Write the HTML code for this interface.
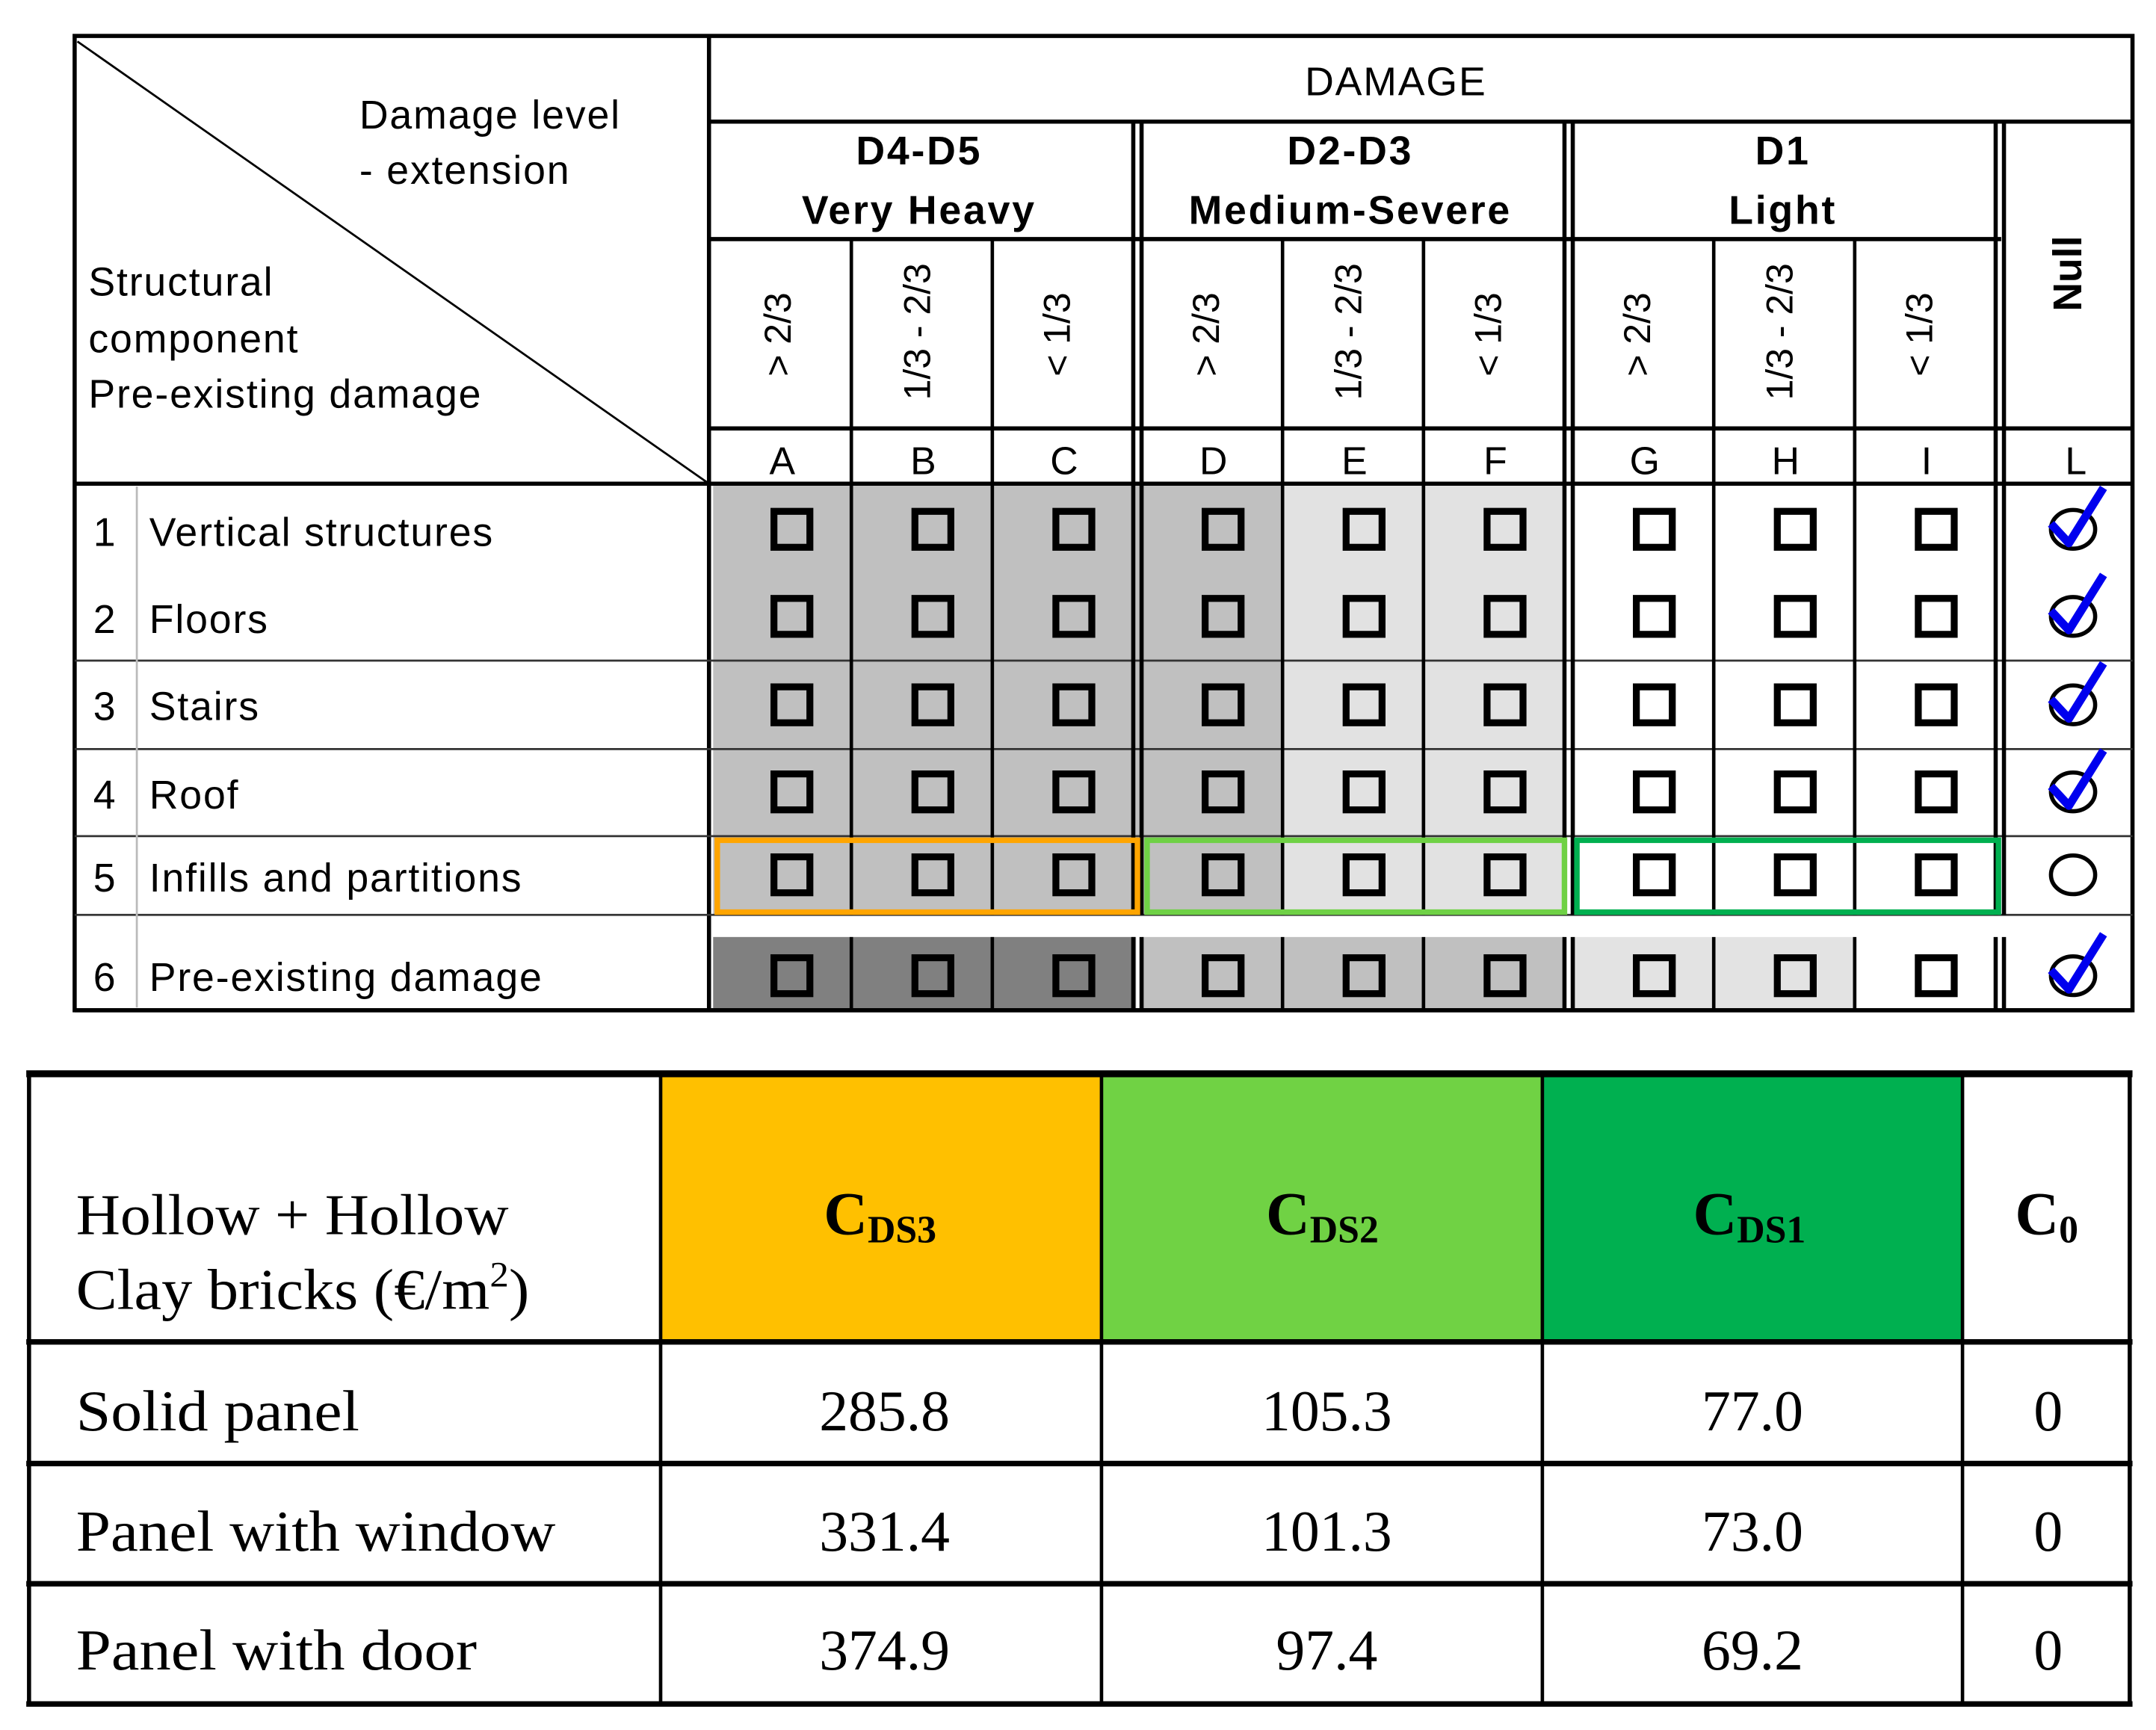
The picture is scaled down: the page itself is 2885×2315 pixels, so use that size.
<!DOCTYPE html>
<html><head><meta charset="utf-8"><style>
html,body{margin:0;padding:0;background:#fff;}
svg{display:block;}
.s{font-family:"Liberation Sans",sans-serif;}
.t{font-family:"Liberation Serif",serif;}
</style></head><body>
<svg width="2885" height="2315" viewBox="0 0 1560 1251.8" xmlns="http://www.w3.org/2000/svg">
<defs>
<rect id="sq" x="-13" y="-13" width="26" height="26" fill="none" stroke="#000" stroke-width="5"/>
<g id="ck"><ellipse cx="0" cy="0" rx="16" ry="14" fill="none" stroke="#000" stroke-width="3"/><path d="M-16,-4 L-3,10 L22,-30" fill="none" stroke="#0000ee" stroke-width="6" stroke-linejoin="round"/></g>
</defs>
<rect width="1560" height="1252" fill="#fff"/>
<rect x="516" y="350" width="412" height="312" fill="#c0c0c0"/>
<rect x="928" y="350" width="204" height="312" fill="#e2e2e2"/>
<rect x="516" y="678" width="306" height="53" fill="#808080"/>
<rect x="826" y="678" width="306" height="53" fill="#c0c0c0"/>
<rect x="1138" y="678" width="204" height="53" fill="#e3e3e3"/>
<rect x="54" y="26" width="1489" height="705" fill="none" stroke="#000" stroke-width="3"/>
<line x1="513" y1="26" x2="513" y2="731" stroke="#000" stroke-width="3"/>
<line x1="513" y1="88" x2="1543" y2="88" stroke="#000" stroke-width="3"/>
<line x1="513" y1="173" x2="1448" y2="173" stroke="#000" stroke-width="3"/>
<line x1="513" y1="310" x2="1543" y2="310" stroke="#000" stroke-width="3"/>
<line x1="54" y1="350" x2="1543" y2="350" stroke="#000" stroke-width="3"/>
<line x1="56" y1="30" x2="513" y2="350" stroke="#000" stroke-width="1.5"/>
<g stroke="#333" stroke-width="1.5">
<line x1="54" y1="478" x2="1543" y2="478"/>
<line x1="54" y1="542" x2="1543" y2="542"/>
<line x1="54" y1="605" x2="1543" y2="605"/>
<line x1="54" y1="662" x2="1543" y2="662"/>
</g>
<rect x="515" y="663" width="930" height="14" fill="#fff"/>
<line x1="54" y1="731" x2="1543" y2="731" stroke="#000" stroke-width="3"/>
<line x1="99" y1="352" x2="99" y2="729" stroke="#bbb" stroke-width="1.5"/>
<g stroke="#000" stroke-width="2.5">
<line x1="616" y1="173" x2="616" y2="662"/><line x1="718" y1="173" x2="718" y2="662"/>
<line x1="928" y1="173" x2="928" y2="662"/><line x1="1030" y1="173" x2="1030" y2="662"/>
<line x1="1240" y1="173" x2="1240" y2="662"/><line x1="1342" y1="173" x2="1342" y2="662"/>
<line x1="616" y1="678" x2="616" y2="731"/><line x1="718" y1="678" x2="718" y2="731"/>
<line x1="928" y1="678" x2="928" y2="731"/><line x1="1030" y1="678" x2="1030" y2="731"/>
<line x1="1240" y1="678" x2="1240" y2="731"/><line x1="1342" y1="678" x2="1342" y2="731"/>
</g>
<g stroke="#000" stroke-width="3">
<line x1="820" y1="88" x2="820" y2="662"/><line x1="826" y1="88" x2="826" y2="662"/>
<line x1="1132" y1="88" x2="1132" y2="662"/><line x1="1138" y1="88" x2="1138" y2="662"/>
<line x1="1444" y1="88" x2="1444" y2="662"/><line x1="1450" y1="88" x2="1450" y2="662"/>
<line x1="820" y1="678" x2="820" y2="731"/><line x1="826" y1="678" x2="826" y2="731"/>
<line x1="1132" y1="678" x2="1132" y2="731"/><line x1="1138" y1="678" x2="1138" y2="731"/>
<line x1="1444" y1="678" x2="1444" y2="731"/><line x1="1450" y1="678" x2="1450" y2="731"/>
</g>
<rect x="519" y="608" width="304" height="52" fill="none" stroke="#ffa500" stroke-width="4"/>
<rect x="830" y="608" width="302" height="52" fill="none" stroke="#6fd145" stroke-width="4"/>
<rect x="1141" y="608" width="305" height="52" fill="none" stroke="#00b050" stroke-width="4"/>
<g class="s" fill="#000" font-size="29">
<text x="1010" y="69" text-anchor="middle" letter-spacing="1">DAMAGE</text>
<text x="260" y="93" letter-spacing="1">Damage level</text>
<text x="260" y="133" letter-spacing="1">- extension</text>
<text x="64" y="214" letter-spacing="1">Structural</text>
<text x="64" y="255" letter-spacing="1">component</text>
<text x="64" y="295" letter-spacing="1">Pre-existing damage</text>
</g>
<g class="s" fill="#000" font-size="29" font-weight="bold" text-anchor="middle" letter-spacing="1.5">
<text x="665" y="119">D4-D5</text><text x="665" y="162">Very Heavy</text>
<text x="977" y="119">D2-D3</text><text x="977" y="162">Medium-Severe</text>
<text x="1290" y="119">D1</text><text x="1290" y="162">Light</text>
</g>
<g class="s" fill="#000" font-size="27">
<text transform="translate(572,242) rotate(-90)" text-anchor="middle">&gt; 2/3</text>
<text transform="translate(673,240) rotate(-90)" text-anchor="middle">1/3 - 2/3</text>
<text transform="translate(774,242) rotate(-90)" text-anchor="middle">&lt; 1/3</text>
<text transform="translate(882,242) rotate(-90)" text-anchor="middle">&gt; 2/3</text>
<text transform="translate(985,240) rotate(-90)" text-anchor="middle">1/3 - 2/3</text>
<text transform="translate(1086,242) rotate(-90)" text-anchor="middle">&lt; 1/3</text>
<text transform="translate(1194,242) rotate(-90)" text-anchor="middle">&gt; 2/3</text>
<text transform="translate(1297,240) rotate(-90)" text-anchor="middle">1/3 - 2/3</text>
<text transform="translate(1398,242) rotate(-90)" text-anchor="middle">&lt; 1/3</text>
<text transform="translate(1506,198) rotate(-90)" text-anchor="middle" font-weight="bold" font-size="29">Null</text>
</g>
<g class="s" fill="#000" font-size="28" text-anchor="middle">
<text x="566" y="343">A</text><text x="668" y="343">B</text><text x="770" y="343">C</text>
<text x="878" y="343">D</text><text x="980" y="343">E</text><text x="1082" y="343">F</text>
<text x="1190" y="343">G</text><text x="1292" y="343">H</text><text x="1394" y="343">I</text>
<text x="1502" y="343">L</text>
</g>
<g class="s" fill="#000" font-size="29" letter-spacing="1">
<text x="76" y="395" text-anchor="middle">1</text><text x="108" y="395">Vertical structures</text>
<text x="76" y="458" text-anchor="middle">2</text><text x="108" y="458">Floors</text>
<text x="76" y="521" text-anchor="middle">3</text><text x="108" y="521">Stairs</text>
<text x="76" y="585" text-anchor="middle">4</text><text x="108" y="585">Roof</text>
<text x="76" y="645" text-anchor="middle">5</text><text x="108" y="645">Infills and partitions</text>
<text x="76" y="717" text-anchor="middle">6</text><text x="108" y="717">Pre-existing damage</text>
</g>
<g>
<use href="#sq" x="573" y="383"/><use href="#sq" x="675" y="383"/><use href="#sq" x="777" y="383"/><use href="#sq" x="885" y="383"/><use href="#sq" x="987" y="383"/><use href="#sq" x="1089" y="383"/><use href="#sq" x="1197" y="383"/><use href="#sq" x="1299" y="383"/><use href="#sq" x="1401" y="383"/>
<use href="#sq" x="573" y="446"/><use href="#sq" x="675" y="446"/><use href="#sq" x="777" y="446"/><use href="#sq" x="885" y="446"/><use href="#sq" x="987" y="446"/><use href="#sq" x="1089" y="446"/><use href="#sq" x="1197" y="446"/><use href="#sq" x="1299" y="446"/><use href="#sq" x="1401" y="446"/>
<use href="#sq" x="573" y="510"/><use href="#sq" x="675" y="510"/><use href="#sq" x="777" y="510"/><use href="#sq" x="885" y="510"/><use href="#sq" x="987" y="510"/><use href="#sq" x="1089" y="510"/><use href="#sq" x="1197" y="510"/><use href="#sq" x="1299" y="510"/><use href="#sq" x="1401" y="510"/>
<use href="#sq" x="573" y="573"/><use href="#sq" x="675" y="573"/><use href="#sq" x="777" y="573"/><use href="#sq" x="885" y="573"/><use href="#sq" x="987" y="573"/><use href="#sq" x="1089" y="573"/><use href="#sq" x="1197" y="573"/><use href="#sq" x="1299" y="573"/><use href="#sq" x="1401" y="573"/>
<use href="#sq" x="573" y="633"/><use href="#sq" x="675" y="633"/><use href="#sq" x="777" y="633"/><use href="#sq" x="885" y="633"/><use href="#sq" x="987" y="633"/><use href="#sq" x="1089" y="633"/><use href="#sq" x="1197" y="633"/><use href="#sq" x="1299" y="633"/><use href="#sq" x="1401" y="633"/>
<use href="#sq" x="573" y="706"/><use href="#sq" x="675" y="706"/><use href="#sq" x="777" y="706"/><use href="#sq" x="885" y="706"/><use href="#sq" x="987" y="706"/><use href="#sq" x="1089" y="706"/><use href="#sq" x="1197" y="706"/><use href="#sq" x="1299" y="706"/><use href="#sq" x="1401" y="706"/>
</g>
<use href="#ck" x="1500" y="383"/><use href="#ck" x="1500" y="446"/><use href="#ck" x="1500" y="510"/><use href="#ck" x="1500" y="573"/><use href="#ck" x="1500" y="706"/>
<ellipse cx="1500" cy="633" rx="16" ry="14" fill="none" stroke="#000" stroke-width="3"/>

<rect x="478" y="778" width="319" height="192" fill="#ffc000"/>
<rect x="797" y="778" width="319" height="192" fill="#70d244"/>
<rect x="1116" y="778" width="304" height="192" fill="#00b050"/>
<g stroke="#000">
<line x1="19" y1="777" x2="1543" y2="777" stroke-width="5"/>
<line x1="21" y1="777" x2="21" y2="1233" stroke-width="3"/>
<line x1="1541" y1="777" x2="1541" y2="1233" stroke-width="3"/>
<line x1="19" y1="971" x2="1543" y2="971" stroke-width="4"/>
<line x1="19" y1="1059" x2="1543" y2="1059" stroke-width="4"/>
<line x1="19" y1="1146" x2="1543" y2="1146" stroke-width="4"/>
<line x1="19" y1="1233" x2="1543" y2="1233" stroke-width="4"/>
<line x1="478" y1="777" x2="478" y2="1233" stroke-width="2.5"/>
<line x1="797" y1="777" x2="797" y2="1233" stroke-width="2.5"/>
<line x1="1116" y1="777" x2="1116" y2="1233" stroke-width="2.5"/>
<line x1="1420" y1="777" x2="1420" y2="1233" stroke-width="2.5"/>
</g>
<g class="t" fill="#000" font-size="42">
<text x="55" y="893" textLength="313" lengthAdjust="spacingAndGlyphs">Hollow + Hollow</text>
<text x="55" y="947" textLength="328" lengthAdjust="spacingAndGlyphs">Clay bricks (€/m<tspan font-size="26" dy="-16">2</tspan><tspan dy="16">)</tspan></text>
<text x="55" y="1035" textLength="205" lengthAdjust="spacingAndGlyphs">Solid panel</text>
<text x="55" y="1122" textLength="347" lengthAdjust="spacingAndGlyphs">Panel with window</text>
<text x="55" y="1208" textLength="290" lengthAdjust="spacingAndGlyphs">Panel with door</text>
</g>
<g class="t" fill="#000" font-size="42" text-anchor="middle">
<text x="640" y="1035">285.8</text><text x="960" y="1035">105.3</text><text x="1268" y="1035">77.0</text><text x="1482" y="1035">0</text>
<text x="640" y="1122">331.4</text><text x="960" y="1122">101.3</text><text x="1268" y="1122">73.0</text><text x="1482" y="1122">0</text>
<text x="640" y="1208">374.9</text><text x="960" y="1208">97.4</text><text x="1268" y="1208">69.2</text><text x="1482" y="1208">0</text>
</g>
<g class="t" fill="#000" font-weight="bold" font-size="44">
<text x="596" y="893">C<tspan font-size="28" dy="6">DS3</tspan></text>
<text x="916" y="893">C<tspan font-size="28" dy="6">DS2</tspan></text>
<text x="1225" y="893">C<tspan font-size="28" dy="6">DS1</tspan></text>
<text x="1458" y="893">C<tspan font-size="28" dy="6">0</tspan></text>
</g>
</svg>
</body></html>
